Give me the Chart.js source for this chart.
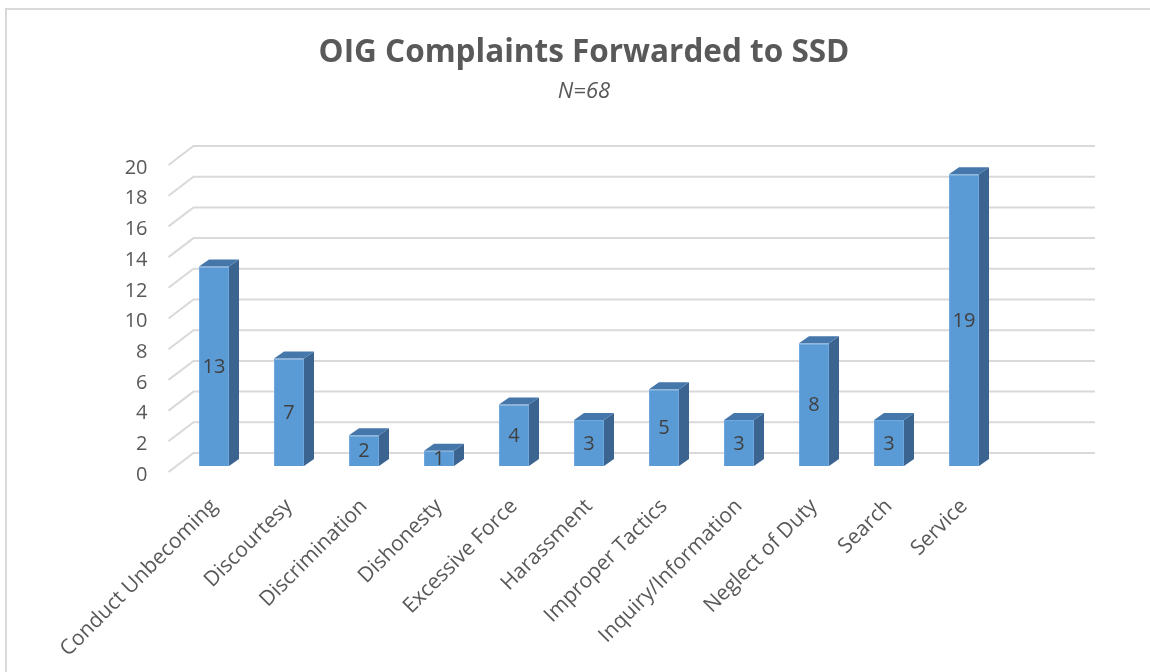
<!DOCTYPE html>
<html>
<head>
<meta charset="utf-8">
<script src="https://cdn.jsdelivr.net/npm/chart.js@4/dist/chart.umd.min.js"></script>
<style>
html,body{margin:0;padding:0;background:#fff;}
canvas{display:block;}
</style>
</head>
<body>
<canvas id="c" width="1150" height="672"></canvas>
<script>
const categories = ["Conduct Unbecoming","Discourtesy","Discrimination","Dishonesty","Excessive Force","Harassment","Improper Tactics","Inquiry/Information","Neglect of Duty","Search","Service"];
const complaints = [13,7,2,1,4,3,5,3,8,3,19];
const titleText = "OIG Complaints Forwarded to SSD";
const subtitleText = "N=68";
const yTicks = [0,2,4,6,8,10,12,14,16,18,20];

const FONT = "'Open Sans', Lato, sans-serif";
const DEPTH_X = 10, DEPTH_Y = 7;      // bar 3D depth
const WALL_BACK = -13, WALL_FRONT = 6; // gridline wall offsets

const framePlugin = {
  id: 'frame',
  beforeDraw(chart) {
    const ctx = chart.ctx;
    ctx.save();
    ctx.fillStyle = '#fff';
    ctx.fillRect(0, 0, chart.width, chart.height);
    ctx.strokeStyle = '#d9d9d9';
    ctx.lineWidth = 2;
    ctx.strokeRect(6, 9, chart.width + 20, chart.height + 20);
    ctx.restore();
  }
};

const wallPlugin = {
  id: 'wall',
  beforeDatasetsDraw(chart) {
    const ctx = chart.ctx, y = chart.scales.y, area = chart.chartArea;
    ctx.save();
    ctx.strokeStyle = '#d9d9d9';
    ctx.lineWidth = 2;
    const x0 = area.left - 8, x1 = x0 + 25, x2 = 1095;
    yTicks.forEach(v => {
      const py = y.getPixelForValue(v);
      ctx.beginPath();
      ctx.moveTo(x0, py + WALL_FRONT);
      ctx.lineTo(x1, py + WALL_BACK);
      ctx.lineTo(x2, py + WALL_BACK);
      ctx.stroke();
    });
    ctx.restore();
  },
  afterDatasetsDraw(chart) {
    const ctx = chart.ctx;
    const meta = chart.getDatasetMeta(0);
    ctx.save();
    meta.data.forEach((bar, i) => {
      const p = bar.getProps(['x','y','base','width'], true);
      const l = p.x - p.width/2, r = p.x + p.width/2;
      ctx.fillStyle = '#3b6590';
      ctx.beginPath();
      ctx.moveTo(r, p.y);
      ctx.lineTo(r + DEPTH_X, p.y - DEPTH_Y);
      ctx.lineTo(r + DEPTH_X, p.base - DEPTH_Y);
      ctx.lineTo(r, p.base);
      ctx.closePath();
      ctx.fill();
      ctx.fillStyle = '#4677ab';
      ctx.beginPath();
      ctx.moveTo(l, p.y);
      ctx.lineTo(l + DEPTH_X, p.y - DEPTH_Y);
      ctx.lineTo(r + DEPTH_X, p.y - DEPTH_Y);
      ctx.lineTo(r, p.y);
      ctx.closePath();
      ctx.fill();
      ctx.fillStyle = '#404040';
      ctx.font = "20px " + FONT;
      ctx.textAlign = 'center';
      ctx.textBaseline = 'middle';
      ctx.fillText(String(complaints[i]), p.x, (p.y + p.base) / 2 + 1);
    });
    ctx.restore();
  }
};

new Chart(document.getElementById('c'), {
  type: 'bar',
  data: {
    labels: categories,
    datasets: [{
      label: 'Complaints',
      data: complaints,
      backgroundColor: '#5b9bd5',
      borderColor: '#6fa8dc',
      borderWidth: 1,
      categoryPercentage: 1,
      barPercentage: 0.4
    }]
  },
  options: {
    responsive: false,
    animation: false,
    devicePixelRatio: 1,
    layout: { padding: { top: 0, left: 18, right: 0, bottom: 0 } },
    plugins: {
      legend: { display: false },
      tooltip: { enabled: false },
      title: {
        display: true,
        text: titleText,
        color: '#595959',
        font: { family: FONT, size: 31.5, weight: 'bold' },
        padding: { top: 34, bottom: 0 }
      },
      subtitle: {
        display: true,
        text: subtitleText,
        color: '#595959',
        font: { family: FONT, size: 22, style: 'italic' },
        padding: { top: 7, bottom: 53.8 }
      }
    },
    scales: {
      x: {
        grid: { display: false, drawTicks: false },
        border: { display: false },
        ticks: {
          color: '#595959',
          font: { family: FONT, size: 21 },
          minRotation: 45,
          maxRotation: 45,
          padding: 28,
          autoSkip: false
        },
        afterFit(s) { s.height = 206; }
      },
      y: {
        min: 0,
        max: 20,
        grid: { display: false, drawTicks: false },
        border: { display: false },
        ticks: {
          stepSize: 2,
          color: '#595959',
          font: { family: FONT, size: 20 },
          padding: 29,
          labelOffset: 9
        },
        afterFit(s) { s.width = 158.5; }
      },
      yRight: {
        position: 'right',
        min: 0,
        max: 20,
        grid: { display: false, drawTicks: false },
        border: { display: false },
        ticks: { display: false },
        afterFit(s) { s.width = 148.5; }
      }
    }
  },
  plugins: [framePlugin, wallPlugin]
});
</script>
</body>
</html>
